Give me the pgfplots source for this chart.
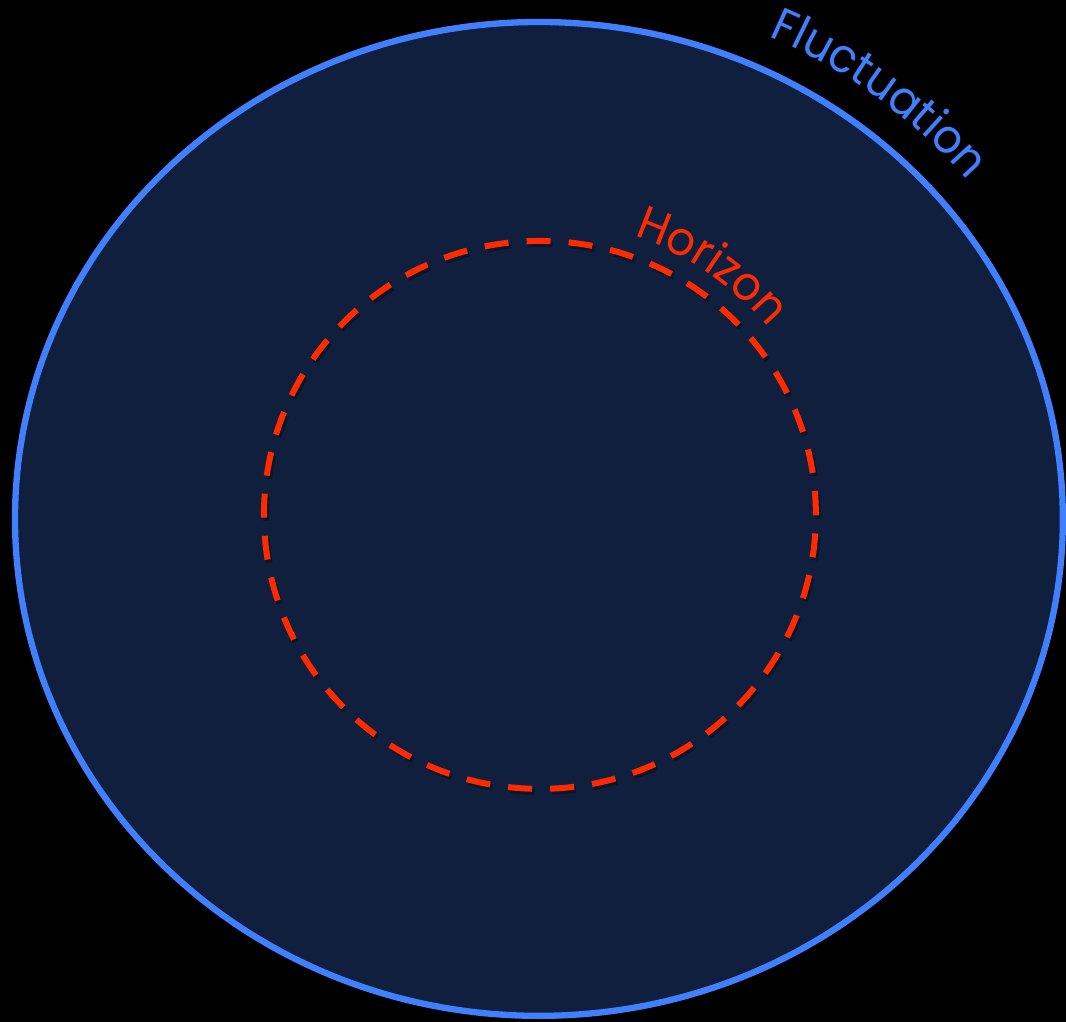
\documentclass[border=0pt]{standalone}
\usepackage{pgfplots}
\pgfplotsset{compat=1.18}
\usepackage{fontspec}
\usetikzlibrary{decorations.text}
\newfontfamily\labfont[FakeStretch=0.95]{Poppins}
\definecolor{bg}{HTML}{111F3E}
\definecolor{edge}{HTML}{4080FF}
\definecolor{hor}{HTML}{FF2A00}
\begin{document}
\begin{tikzpicture}
\begin{axis}[x=1pt,y=1pt,xmin=0,xmax=1066,ymin=0,ymax=1022,hide axis,clip=false]
\fill[black] (axis cs:0,0) rectangle (axis cs:1066,1022);
\draw[edge, line width=6.3pt, fill=bg] (axis cs:539,503) ellipse [x radius=524pt, y radius=497pt];
\draw[black, opacity=0.35, line width=6pt, dash pattern=on 24pt off 18.14pt] (axis cs:542,504) ellipse [x radius=276pt, y radius=274pt];
\draw[hor, line width=6pt, dash pattern=on 24pt off 18.14pt] (axis cs:540,507) ellipse [x radius=276pt, y radius=274pt];
\path[decorate, decoration={text along path, text align=center, text color=edge,
  text={|\labfont\fontsize{47}{50}\selectfont|Fluctuation}}]
  (axis cs:539,503) ++(75:557pt and 530pt) arc[start angle=75, end angle=30, x radius=557pt, y radius=530pt];
\path[decorate, decoration={text along path, text align=center, text color=hor,
  text={|\labfont\fontsize{47}{50}\selectfont|Horizon}}]
  (axis cs:540,507) ++(80:296pt and 294pt) arc[start angle=80, end angle=31, x radius=296pt, y radius=294pt];
\end{axis}
\end{tikzpicture}
\end{document}
